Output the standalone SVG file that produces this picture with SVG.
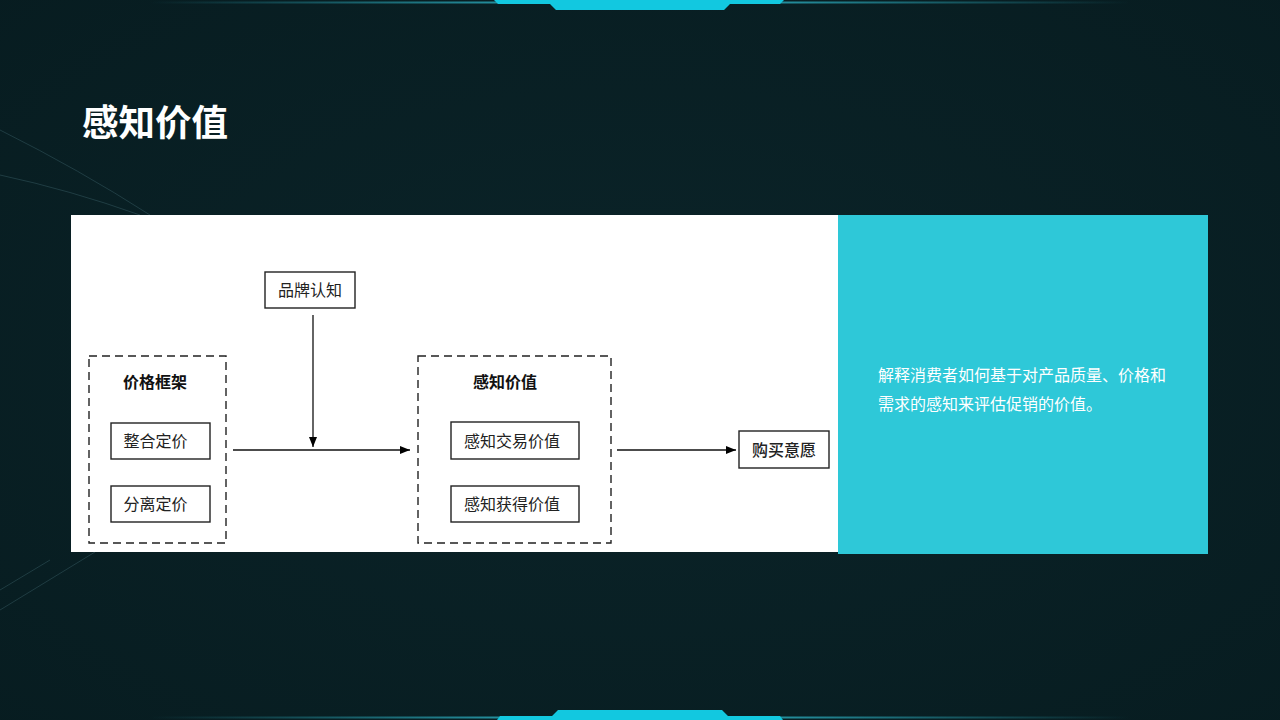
<svg xmlns="http://www.w3.org/2000/svg" width="1280" height="720" viewBox="0 0 1280 720">
<defs>
<radialGradient id="bg" cx="0.5" cy="0.5" r="0.75">
<stop offset="0" stop-color="#0b2429" stop-opacity="1"/>
<stop offset="1" stop-color="#071c20"/>
</radialGradient>
<linearGradient id="topline" x1="0" y1="0" x2="1" y2="0">
<stop offset="0" stop-color="#2aa7b8" stop-opacity="0"/>
<stop offset="0.35" stop-color="#2aa7b8" stop-opacity="0.8"/>
<stop offset="0.65" stop-color="#2aa7b8" stop-opacity="0.8"/>
<stop offset="1" stop-color="#2aa7b8" stop-opacity="0"/>
</linearGradient>
<marker id="arrow" viewBox="0 0 10 10" refX="10" refY="5" markerWidth="10" markerHeight="10" markerUnits="userSpaceOnUse" orient="auto">
<path d="M0,1 L10,5 L0,9 Z" fill="#000"/>
</marker>
<style>
.box{fill:#fff;stroke:#222;stroke-width:1.4}
.group{fill:none;stroke:#222;stroke-width:1.4;stroke-dasharray:8 5}
.lbl{font-family:"Noto Sans CJK SC","Noto Sans",sans-serif;font-size:16px;fill:#222;text-anchor:middle}
.glbl{font-family:"Noto Sans CJK SC","Noto Sans",sans-serif;font-size:16px;font-weight:bold;fill:#111;text-anchor:middle}
.edge{stroke:#111;stroke-width:1.3;fill:none}
.desc{font-family:"Noto Sans CJK SC","Noto Sans",sans-serif;font-size:16px;fill:#fff}
</style>
</defs>
<rect width="1280" height="720" fill="url(#bg)"/>
<g id="bg-lines" stroke="#5a8a94" stroke-width="0.8" fill="none" opacity="0.35">
<path d="M0,130 Q80,170 150,215"/>
<path d="M0,175 Q70,190 140,215"/>
<path d="M0,610 L95,552"/>
<path d="M0,590 L50,560"/>
</g>
<g id="frame-top">
<rect x="150" y="1.5" width="980" height="2" fill="url(#topline)"/>
<path d="M494,0 L784,0 L780,4 L730,4 L724,10 L556,10 L550,4 L498,4 Z" fill="#12c8e0"/>
</g>
<g id="frame-bottom">
<rect x="150" y="716.5" width="980" height="2" fill="url(#topline)"/>
<path d="M497,720 L783,720 L780,716 L728,716 L722,710 L558,710 L552,716 L500,716 Z" fill="#12c8e0"/>
</g>
<text x="82" y="136" font-family="Noto Sans CJK SC,Noto Sans,sans-serif" font-size="36.5" font-weight="bold" fill="#fff">感知价值</text>
<rect x="71" y="215" width="767" height="337" fill="#fff"/>
<rect x="838" y="215" width="370" height="339" fill="#2ec8d8"/>
<g id="connectors">
<line class="edge" x1="233" y1="450" x2="410" y2="450" marker-end="url(#arrow)"/>
<line class="edge" x1="313" y1="315" x2="313" y2="447" marker-end="url(#arrow)"/>
<line class="edge" x1="617" y1="450" x2="736" y2="450" marker-end="url(#arrow)"/>
</g>
<g id="brand">
<rect class="box" x="265" y="272" width="90" height="36"/>
<text class="lbl" x="310" y="296">品牌认知</text>
</g>
<g id="price-frame">
<rect class="group" x="89" y="356" width="137" height="187"/>
<text class="glbl" x="155" y="388">价格框架</text>
</g>
<g id="integrated">
<rect class="box" x="111" y="423" width="99" height="36"/>
<text class="lbl" x="155.5" y="446.5">整合定价</text>
</g>
<g id="separate">
<rect class="box" x="111" y="486" width="99" height="36"/>
<text class="lbl" x="155.5" y="509.5">分离定价</text>
</g>
<g id="perceived-value">
<rect class="group" x="418" y="356" width="193" height="187"/>
<text class="glbl" x="505" y="388">感知价值</text>
</g>
<g id="transaction">
<rect class="box" x="451" y="422" width="128" height="37"/>
<text class="lbl" x="512" y="446.5">感知交易价值</text>
</g>
<g id="acquisition">
<rect class="box" x="451" y="486" width="128" height="36"/>
<text class="lbl" x="512" y="509.5">感知获得价值</text>
</g>
<g id="purchase">
<rect class="box" x="739" y="431" width="90" height="37"/>
<text class="lbl" x="784" y="455.5" style="font-weight:500">购买意愿</text>
</g>
<g id="description">
<text class="desc" x="878" y="381">解释消费者如何基于对产品质量、价格和</text>
<text class="desc" x="878" y="410">需求的感知来评估促销的价值。</text>
</g>
</svg>
